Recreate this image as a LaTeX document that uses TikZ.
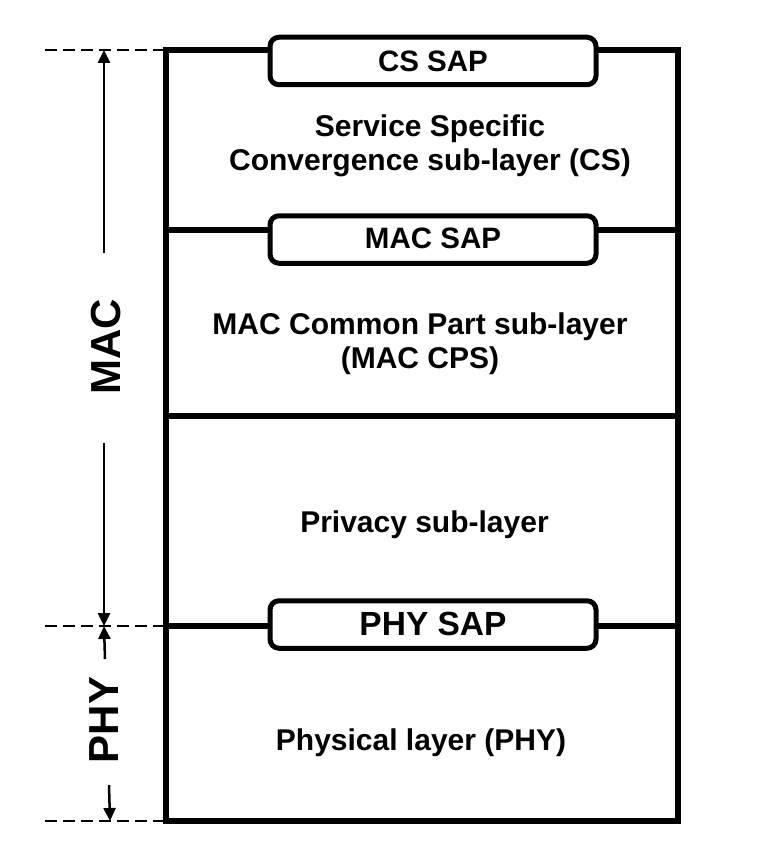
\documentclass[tikz,border=0pt]{standalone}
\usepackage{fontspec}
\setmainfont{Liberation Sans}
\usetikzlibrary{arrows.meta}
\begin{document}
\begin{tikzpicture}[x=1pt,y=-1pt,
  frame/.style={line width=5.5pt},
  sapbox/.style={draw,line width=5pt,rounded corners=9pt,fill=white,minimum width=326pt,minimum height=47.5pt,inner sep=0pt,font=\bfseries\fontsize{29.5}{34}\selectfont},
  body/.style={align=center,inner sep=0pt,font=\bfseries\fontsize{30}{34}\selectfont},
  side/.style={rotate=90,inner sep=0pt,font=\bfseries\fontsize{42}{46}\selectfont},
  guide/.style={line width=2pt,dash pattern=on 12pt off 6pt},
  dimarrow/.style={line width=2.5pt,-{Triangle[length=13pt,width=12pt]}}]
\useasboundingbox (0,0) rectangle (756,856);
% frame
\coordinate (TL) at (166,50);
\coordinate (BR) at (678,821);
\coordinate (l1a) at (166,230); \coordinate (l1b) at (678,230);
\coordinate (l2a) at (166,416); \coordinate (l2b) at (678,416);
\coordinate (l3a) at (166,626); \coordinate (l3b) at (678,626);
\draw[frame] (TL) rectangle (BR);
\draw[frame] (l1a) -- (l1b);
\draw[frame] (l2a) -- (l2b);
\draw[frame] (l3a) -- (l3b);
% SAP boxes
\node[sapbox] (cssap) at (433,61) {\raisebox{-3pt}[0pt][0pt]{CS SAP}\vphantom{Ag}};
\node[sapbox] (macsap) at (433,239.5) {\raisebox{-2pt}[0pt][0pt]{MAC SAP}\vphantom{Ag}};
\node[sapbox,font=\bfseries\fontsize{33.5}{36}\selectfont] (physap) at (433,624.5) {\raisebox{-3pt}[0pt][0pt]{PHY SAP}\vphantom{Ag}};
% layer texts
\node[body] (cs) at (430,146) {Service Specific\\Convergence sub-layer (CS)};
\node[body] (cps) at (420,344) {MAC Common Part sub-layer\\(MAC CPS)};
\node[body] (priv) at (424.5,525) {Privacy sub-layer};
\node[body] (phy) at (421,743) {Physical layer (PHY)};
% dashed guides
\coordinate (g1) at (45,50); \coordinate (g1e) at (163,50);
\coordinate (g2) at (45,626); \coordinate (g2e) at (163,626);
\coordinate (g3) at (45,821); \coordinate (g3e) at (163,821);
\draw[guide] (g1) -- (g1e);
\draw[guide] (g2) -- (g2e);
\draw[guide] (g3) -- (g3e);
% side labels
\node[side] (mac) at (106,347) {MAC};
\node[side] (phyl) at (104,720) {PHY};
% dimension arrows
\coordinate (a1s) at (104,253); \coordinate (a1t) at (104,50);
\coordinate (a2s) at (104,443); \coordinate (a2t) at (104,626);
\coordinate (a3s) at (105,659); \coordinate (a3t) at (104,626);
\coordinate (a4s) at (109,785); \coordinate (a4t) at (110,821);
\draw[dimarrow] (a1s) -- (a1t);
\draw[dimarrow] (a2s) -- (a2t);
\draw[dimarrow] (a3s) -- (a3t);
\draw[dimarrow] (a4s) -- (a4t);
\end{tikzpicture}
\end{document}
